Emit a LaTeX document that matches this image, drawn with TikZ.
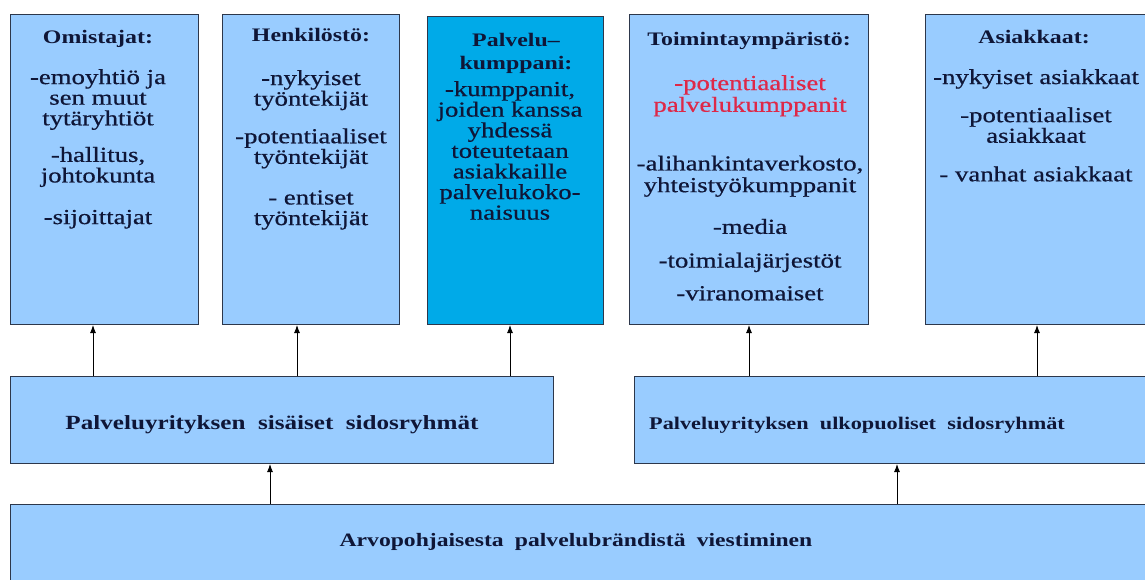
\documentclass[tikz,border=0pt]{standalone}
\usepackage{fontspec}
\setmainfont{Liberation Serif}
\newfontfamily\bodyfont{Liberation Serif}[FakeBold=0.5]
\usetikzlibrary{arrows.meta}

\definecolor{boxblue}{RGB}{153,204,255}
\definecolor{deepblue}{RGB}{0,170,232}
\definecolor{edge}{RGB}{45,55,75}
\definecolor{ink}{RGB}{15,22,55}
\definecolor{redink}{RGB}{222,40,72}

\newcommand{\wgap}{\hspace{9pt}}

\begin{document}
\begin{tikzpicture}[x=1pt,y=-1pt,
  panel/.style={draw=edge, line width=1pt, fill=boxblue, rectangle,
                inner sep=0pt, anchor=north west},
  keypanel/.style={panel, fill=deepblue},
  wide/.style={xscale=1.25, transform shape},
  ttl/.style={wide, font=\bfseries\fontsize{19.1}{22}\selectfont, text=ink,
              align=center, inner sep=0pt, anchor=north},
  body/.style={wide, font=\bodyfont\fontsize{21.4}{20.6}\selectfont, text=ink,
               align=center, inner sep=0pt, anchor=north},
  band/.style={wide, font=\bfseries\fontsize{17.8}{20}\selectfont, text=ink,
               inner sep=0pt},
  arr/.style={draw=black, line width=0.9pt,
              -{Latex[length=8pt,width=6pt]}}
]
\clip (0,0) rectangle (1145,579);
\fill[white] (0,0) rectangle (1145,579);

% stakeholder panels
\node[panel, minimum width=188pt, minimum height=310pt] (own)  at (10,14)  {};
\node[panel, minimum width=177pt, minimum height=310pt] (staff) at (222,14) {};
\node[keypanel, minimum width=176pt, minimum height=308pt] (partner) at (427,16) {};
\node[panel, minimum width=239pt, minimum height=310pt] (env)  at (629,14) {};
\node[panel, minimum width=240pt, minimum height=310pt] (cust) at (925,14) {};

% group bands
\node[panel, minimum width=543pt, minimum height=87pt] (inner) at (10,376) {};
\node[panel, minimum width=530pt, minimum height=87pt] (outer) at (634,376) {};
\node[panel, minimum width=1150pt, minimum height=100pt] (base) at (10,504) {};

% panel texts
\node[ttl] (ownT) at (98,30) {Omistajat:};
\node[body] (ownB) at (98,69) {-emoyhtiö ja\\sen muut\\tytäryhtiöt\\[16pt]-hallitus,\\johtokunta\\[21pt]-sijoittajat};

\node[ttl] (staffT) at (311,28) {Henkilöstö:};
\node[body] (staffB) at (311,70) {-nykyiset\\työntekijät\\[17pt]-potentiaaliset\\työntekijät\\[20pt]- entiset\\työntekijät};

\node[ttl, font=\bfseries\fontsize{19.1}{23}\selectfont] (partnerT) at (516,33) {Palvelu–\\kumppani:};
\node[body] (partnerB) at (510,81) {-kumppanit,\\joiden kanssa\\yhdessä\\toteutetaan\\asiakkaille\\palvelukoko-\\naisuus};

\node[ttl] (envT) at (749,32) {Toimintaympäristö:};
\node[body, font=\bodyfont\fontsize{21.4}{21.7}\selectfont] (envB) at (750,75) {\textcolor{redink}{-potentiaaliset}\\\textcolor{redink}{palvelukumppanit}\\[37pt]-alihankintaverkosto,\\yhteistyökumppanit\\[20pt]-media\\[12pt]-toimialajärjestöt\\[11pt]-viranomaiset};

\node[ttl] (custT) at (1034,30) {Asiakkaat:};
\node[body] (custB) at (1036,69) {-nykyiset asiakkaat\\[17.5pt]-potentiaaliset\\asiakkaat\\[18pt]- vanhat asiakkaat};

% band texts
\node[band, font=\bfseries\fontsize{20.1}{22}\selectfont] (innerT) at (272,425) {Palveluyrityksen\hspace{10pt}sisäiset\hspace{10pt}sidosryhmät};
\node[band] (outerT) at (857,425) {Palveluyrityksen\wgap ulkopuoliset\wgap sidosryhmät};
\node[band, font=\bfseries\fontsize{18.9}{20}\selectfont] (baseT) at (576,542) {Arvopohjaisesta\wgap palvelubrändistä\wgap viestiminen};

% arrow positions
\coordinate (c1) at (93,0);
\coordinate (c2) at (297,0);
\coordinate (c3) at (510,0);
\coordinate (c4) at (749,0);
\coordinate (c5) at (1037,0);
\coordinate (c6) at (270,0);
\coordinate (c7) at (897,0);

\draw[arr] (inner.north -| c1) -- (own.south -| c1);
\draw[arr] (inner.north -| c2) -- (staff.south -| c2);
\draw[arr] (inner.north -| c3) -- (partner.south -| c3);
\draw[arr] (outer.north -| c4) -- (env.south -| c4);
\draw[arr] (outer.north -| c5) -- (cust.south -| c5);
\draw[arr] (base.north -| c6) -- (inner.south -| c6);
\draw[arr] (base.north -| c7) -- (outer.south -| c7);
\end{tikzpicture}
\end{document}
